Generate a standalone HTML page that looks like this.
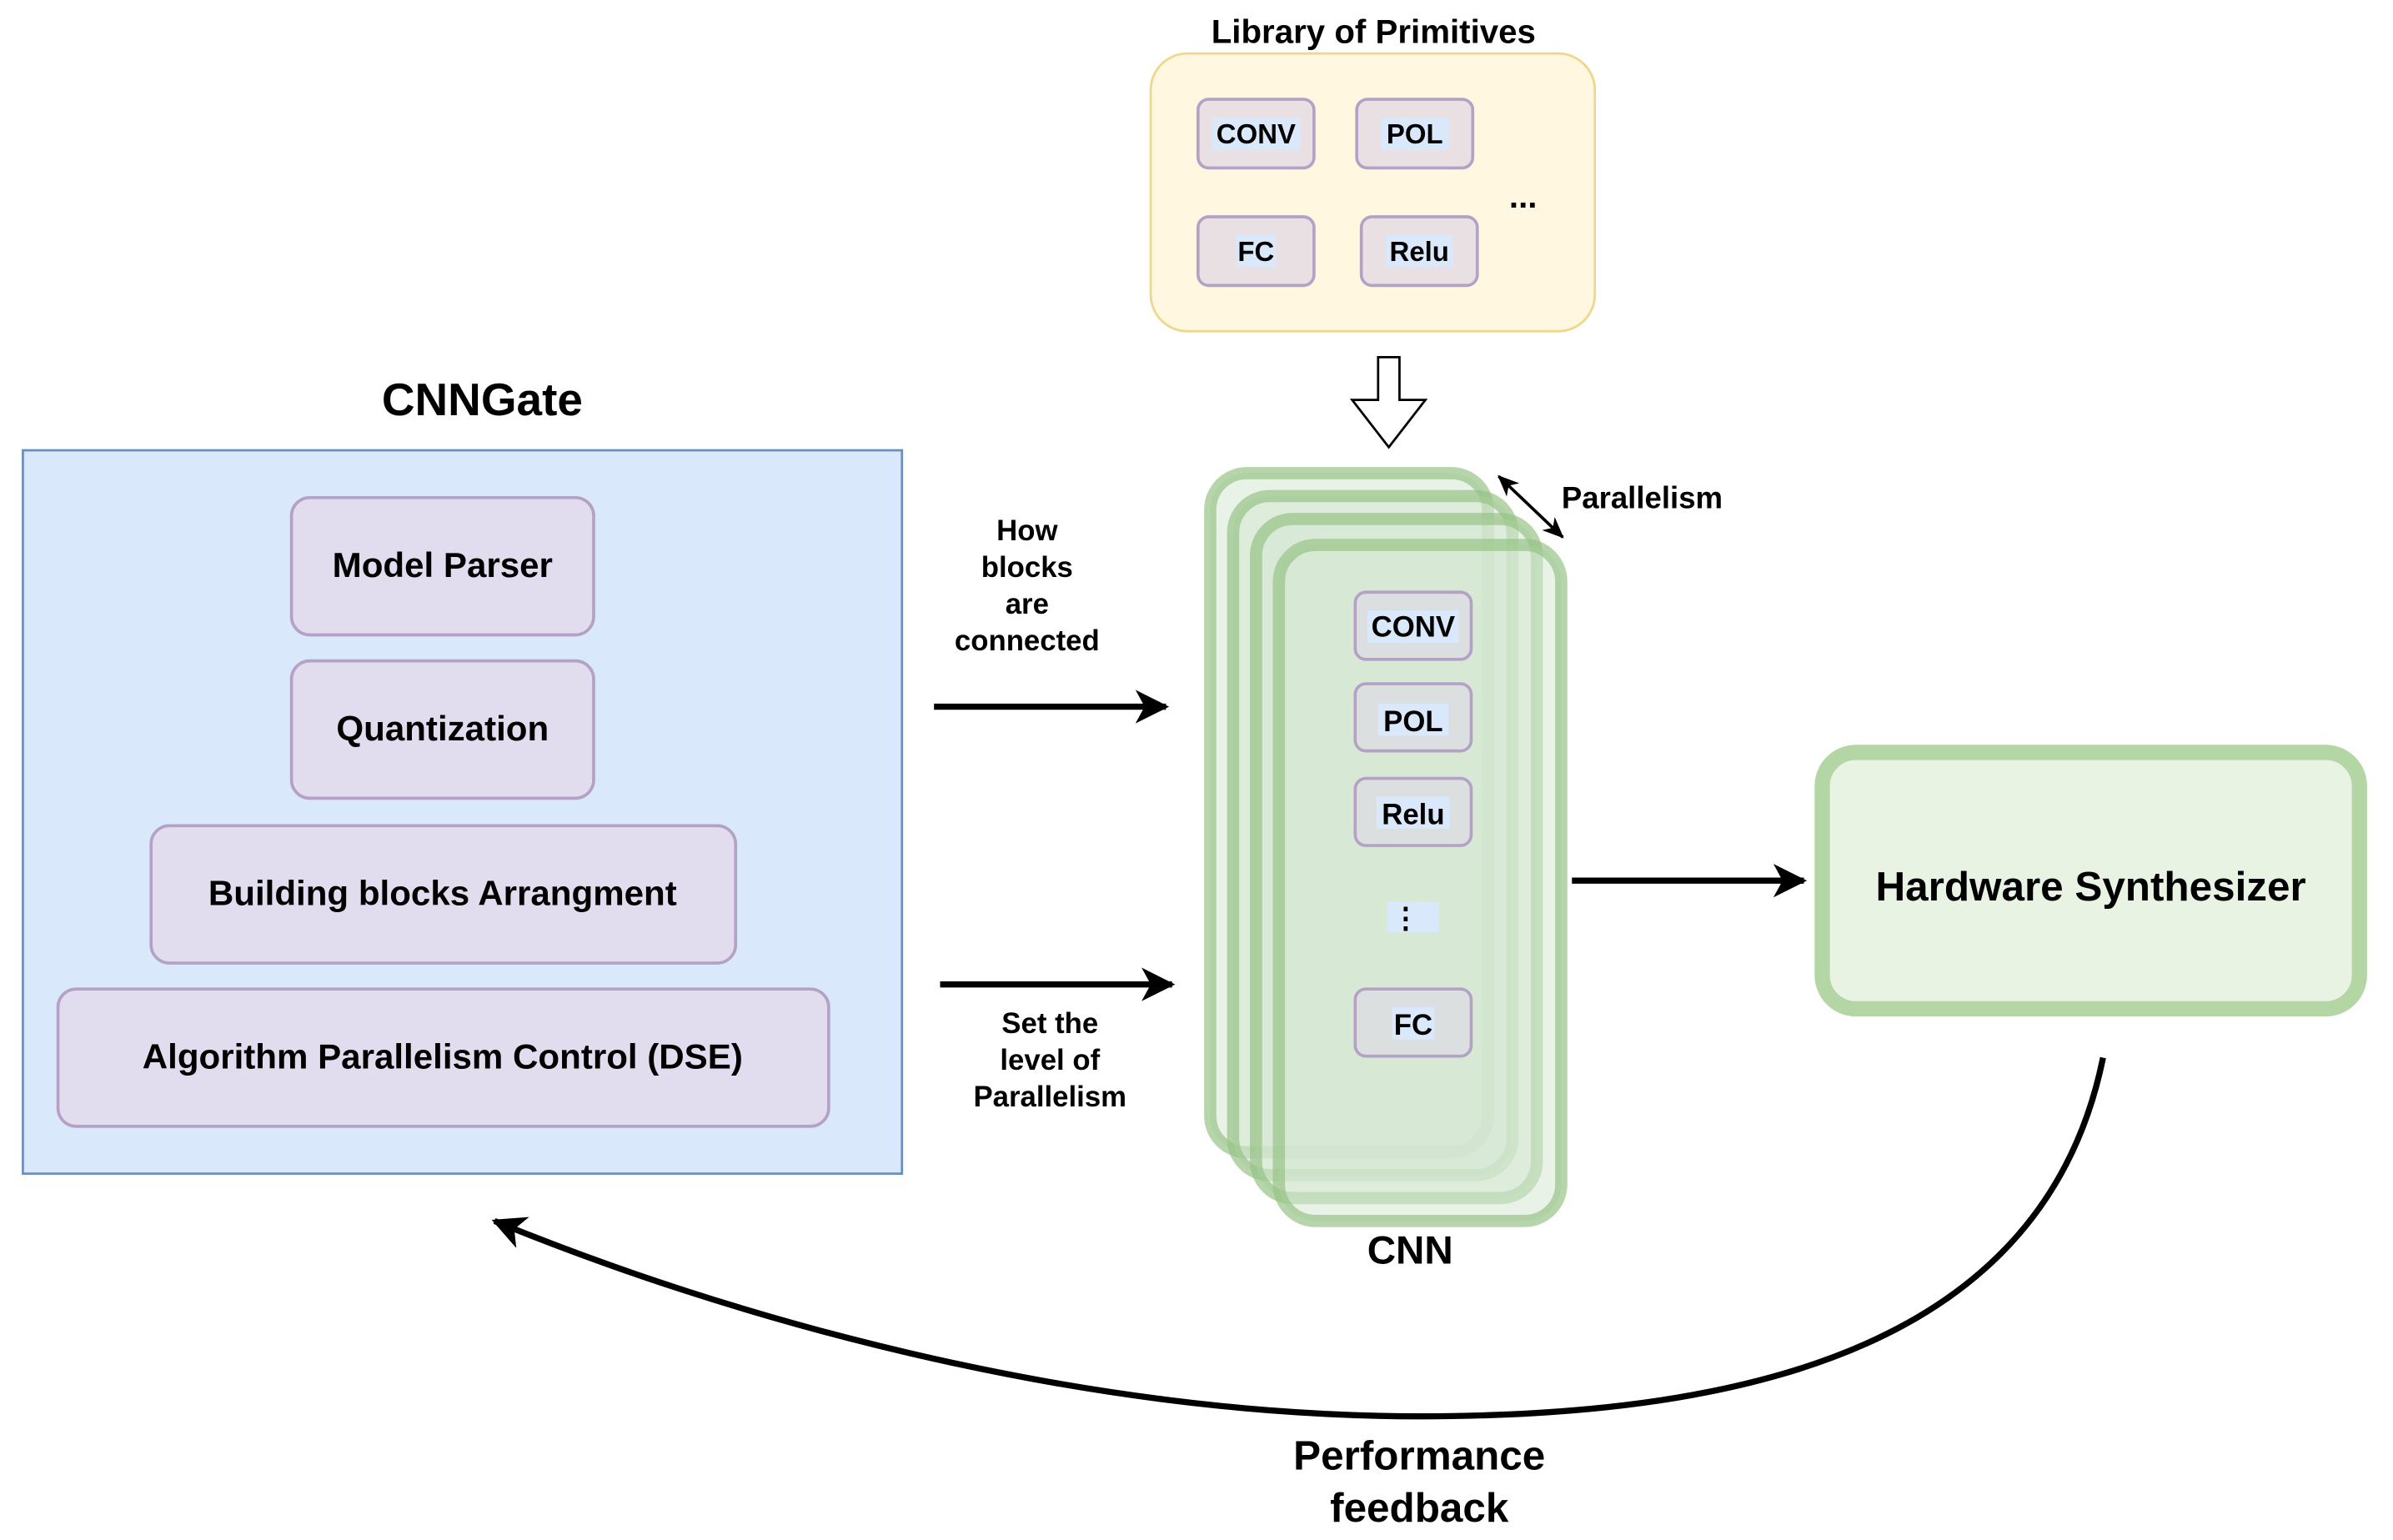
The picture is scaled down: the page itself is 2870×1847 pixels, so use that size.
<!DOCTYPE html>
<html><head><meta charset="utf-8"><style>html,body{margin:0;padding:0;background:#fff}svg{display:block}</style></head><body>
<svg width="2870" height="1847" viewBox="0 0 1568 1009" xmlns="http://www.w3.org/2000/svg" font-family="Liberation Sans, Arial, sans-serif" font-weight="bold">
<defs>
<marker id="ah" markerWidth="14" markerHeight="12" refX="13" refY="6" orient="auto-start-reverse" markerUnits="userSpaceOnUse"><path d="M0,0 L14,6 L0,12 L4,6 Z" fill="#000"/></marker>
<marker id="ah2" markerWidth="22" markerHeight="22" refX="20" refY="11" orient="auto" markerUnits="userSpaceOnUse"><path d="M0,0 L22,11 L0,22 L6,11 Z" fill="#000"/></marker>
</defs>
<!-- Library -->
<text x="900" y="28" font-size="22" text-anchor="middle">Library of  Primitives</text>
<rect x="754" y="35" width="291" height="182" rx="24" fill="#fff7e0" stroke="#f0d68a" stroke-width="1.5"/>
<g font-size="18" text-anchor="middle">
<rect x="785" y="65" width="76" height="45" rx="7" fill="#e9e0e4" stroke="#b4a2c6" stroke-width="2"/><rect x="794" y="77" width="58" height="21" fill="#dae8fb"/><text x="823" y="94">CONV</text>
<rect x="889" y="65" width="76" height="45" rx="7" fill="#e9e0e4" stroke="#b4a2c6" stroke-width="2"/><rect x="905" y="77" width="44" height="21" fill="#dae8fb"/><text x="927" y="94">POL</text>
<rect x="785" y="142" width="76" height="45" rx="7" fill="#e9e0e4" stroke="#b4a2c6" stroke-width="2"/><rect x="810" y="154" width="26" height="21" fill="#dae8fb"/><text x="823" y="171">FC</text>
<rect x="892" y="142" width="76" height="45" rx="7" fill="#e9e0e4" stroke="#b4a2c6" stroke-width="2"/><rect x="908" y="154" width="44" height="21" fill="#dae8fb"/><text x="930" y="171">Relu</text>
<text x="998" y="136" font-size="22">...</text>
</g>
<!-- hollow arrow -->
<path d="M903,234 L917,234 L917,262 L934,262 L910,293 L886,262 L903,262 Z" fill="#fff" stroke="#000" stroke-width="1.5"/>
<!-- CNNGate -->
<text x="316" y="272" font-size="30" text-anchor="middle">CNNGate</text>
<rect x="15" y="295" width="576" height="474" fill="#dae8fb" stroke="#6c8ebf" stroke-width="1.5"/>
<g font-size="23" text-anchor="middle">
<rect x="191" y="326" width="198" height="90" rx="12" fill="#e1dcee" stroke="#b4a2c6" stroke-width="2"/><text x="290" y="378">Model Parser</text>
<rect x="191" y="433" width="198" height="90" rx="12" fill="#e1dcee" stroke="#b4a2c6" stroke-width="2"/><text x="290" y="485">Quantization</text>
<rect x="99" y="541" width="383" height="90" rx="12" fill="#e1dcee" stroke="#b4a2c6" stroke-width="2"/><text x="290" y="593">Building blocks Arrangment</text>
<rect x="38" y="648" width="505" height="90" rx="12" fill="#e1dcee" stroke="#b4a2c6" stroke-width="2"/><text x="290" y="700">Algorithm Parallelism Control (DSE)</text>
</g>
<!-- arrows in -->
<g font-size="19" text-anchor="middle">
<text x="673" y="354">How</text><text x="673" y="378">blocks</text><text x="673" y="402">are</text><text x="673" y="426">connected</text>
<text x="688" y="677">Set the</text><text x="688" y="701">level of</text><text x="688" y="725">Parallelism</text>
</g>
<line x1="612" y1="463" x2="764" y2="463" stroke="#000" stroke-width="4" marker-end="url(#ah2)"/>
<line x1="616" y1="645" x2="768" y2="645" stroke="#000" stroke-width="4" marker-end="url(#ah2)"/>
<!-- CNN stack -->
<g fill="#d5e8d4" fill-opacity="0.55" stroke="#97c386" stroke-opacity="0.7" stroke-width="8">
<rect x="793" y="310" width="182" height="445" rx="24"/>
<rect x="808" y="325" width="183" height="445" rx="24"/>
<rect x="823" y="340" width="184" height="445" rx="24"/>
<rect x="838" y="357" width="185" height="443" rx="24"/>
</g>
<g font-size="19" text-anchor="middle">
<rect x="888" y="388" width="76" height="44" rx="7" fill="#dcdfe0" stroke="#b4a2c6" stroke-width="2"/><rect x="896" y="400" width="60" height="21" fill="#dae8fb"/><text x="926" y="417">CONV</text>
<rect x="888" y="448" width="76" height="44" rx="7" fill="#dcdfe0" stroke="#b4a2c6" stroke-width="2"/><rect x="903" y="461" width="46" height="21" fill="#dae8fb"/><text x="926" y="479">POL</text>
<rect x="888" y="510" width="76" height="44" rx="7" fill="#dcdfe0" stroke="#b4a2c6" stroke-width="2"/><rect x="902" y="522" width="48" height="21" fill="#dae8fb"/><text x="926" y="540">Relu</text>
<rect x="909" y="591" width="34" height="20" fill="#dae8fb"/><text x="921" y="608">⋮</text>
<rect x="888" y="648" width="76" height="44" rx="7" fill="#dcdfe0" stroke="#b4a2c6" stroke-width="2"/><rect x="912" y="660" width="28" height="21" fill="#dae8fb"/><text x="926" y="678">FC</text>
</g>
<text x="924" y="828" font-size="26" text-anchor="middle">CNN</text>
<line x1="982" y1="312" x2="1024" y2="352" stroke="#000" stroke-width="2" marker-start="url(#ah)" marker-end="url(#ah)"/>
<text x="1076" y="333" font-size="20" text-anchor="middle">Parallelism</text>
<!-- to HW -->
<line x1="1030" y1="577" x2="1182" y2="577" stroke="#000" stroke-width="4" marker-end="url(#ah2)"/>
<rect x="1194" y="493" width="352" height="168" rx="22" fill="#e8f3e4" stroke="#b4d6a5" stroke-width="10"/>
<text x="1370" y="590" font-size="27" text-anchor="middle">Hardware Synthesizer</text>
<!-- feedback -->
<path d="M1378,693 C1340,880 1150,928 930,928 C700,928 470,860 324,800" fill="none" stroke="#000" stroke-width="4" marker-end="url(#ah2)"/>
<text x="930" y="963" font-size="27" text-anchor="middle">Performance</text>
<text x="930" y="997" font-size="27" text-anchor="middle">feedback</text>
</svg>
</body></html>
